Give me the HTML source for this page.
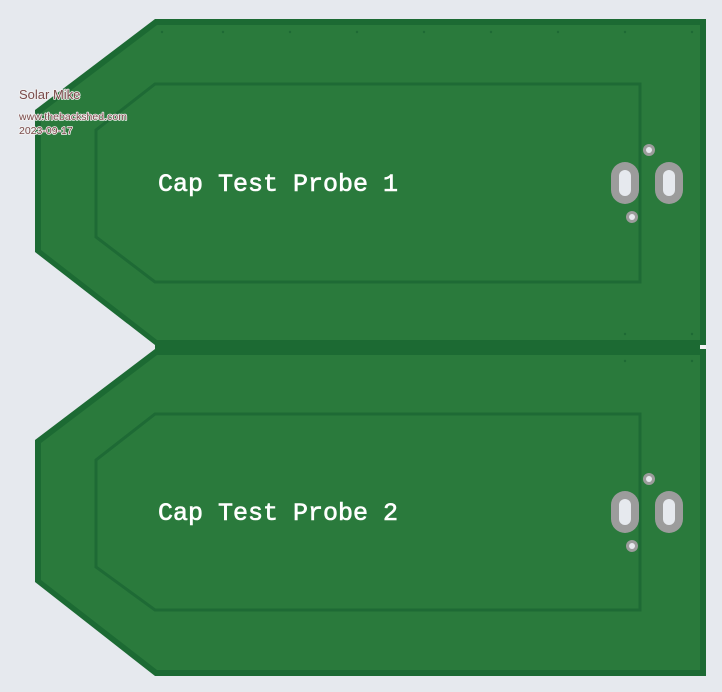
<!DOCTYPE html>
<html><head><style>
html,body{margin:0;padding:0;background:#e6e9ee;width:722px;height:692px;overflow:hidden}
svg{display:block}
</style></head><body>
<svg width="722" height="692" viewBox="0 0 722 692">
<rect width="722" height="692" fill="#e6e9ee"/>
<g id="b1">
<polygon points="155,19 706,19 706,345 155,345 35,252 35,110" fill="#1c6a33"/>
<polygon points="157,25 700,25 700,340 157,340 41,250 41,113" fill="#2a7a3c"/>
<polygon points="155,84 640,84 640,282 155,282 96,237 96,130" fill="none" stroke="#1e6a35" stroke-width="3"/>
<text x="158" y="191" font-family="Liberation Mono, monospace" font-size="25" fill="#fff" stroke="#fff" stroke-width="0.6">Cap Test Probe 1</text>
<rect x="611" y="162" width="28" height="42" rx="14" fill="#9c9c9c"/>
<rect x="619" y="170" width="12" height="26" rx="6" fill="#e6e9ee"/>
<rect x="655" y="162" width="28" height="42" rx="14" fill="#9c9c9c"/>
<rect x="663" y="170" width="12" height="26" rx="6" fill="#e6e9ee"/>
<circle cx="649" cy="150" r="6" fill="#9c9c9c"/><circle cx="649" cy="150" r="3" fill="#e6e9ee"/>
<circle cx="632" cy="217" r="6" fill="#9c9c9c"/><circle cx="632" cy="217" r="3" fill="#e6e9ee"/>
</g>
<rect x="155" y="340" width="545" height="12" fill="#1c6a33"/>
<rect x="700" y="345" width="6" height="5" fill="#f4f4f4"/>
<g transform="translate(0,330)">
<polygon points="155,19 706,19 706,346 155,346 35,252 35,110" fill="#1c6a33"/>
<polygon points="157,25 700,25 700,340 157,340 41,250 41,113" fill="#2a7a3c"/>
<polygon points="155,84 640,84 640,280 155,280 96,237 96,130" fill="none" stroke="#1e6a35" stroke-width="3"/>
<text x="158" y="190" font-family="Liberation Mono, monospace" font-size="25" fill="#fff" stroke="#fff" stroke-width="0.6">Cap Test Probe 2</text>
<rect x="611" y="161" width="28" height="42" rx="14" fill="#9c9c9c"/>
<rect x="619" y="169" width="12" height="26" rx="6" fill="#e6e9ee"/>
<rect x="655" y="161" width="28" height="42" rx="14" fill="#9c9c9c"/>
<rect x="663" y="169" width="12" height="26" rx="6" fill="#e6e9ee"/>
<circle cx="649" cy="149" r="6" fill="#9c9c9c"/><circle cx="649" cy="149" r="3" fill="#e6e9ee"/>
<circle cx="632" cy="216" r="6" fill="#9c9c9c"/><circle cx="632" cy="216" r="3" fill="#e6e9ee"/>
</g>
<g fill="#1e6a35">
<circle cx="162" cy="32" r="1.2"/><circle cx="223" cy="32" r="1.2"/><circle cx="290" cy="32" r="1.2"/><circle cx="357" cy="32" r="1.2"/><circle cx="424" cy="32" r="1.2"/><circle cx="491" cy="32" r="1.2"/><circle cx="558" cy="32" r="1.2"/><circle cx="625" cy="32" r="1.2"/><circle cx="692" cy="32" r="1.2"/>
<circle cx="625" cy="334" r="1.2"/><circle cx="692" cy="334" r="1.2"/><circle cx="625" cy="361" r="1.2"/><circle cx="692" cy="361" r="1.2"/>
</g>
<g font-family="Liberation Sans, sans-serif" fill="#7a4a4a" stroke="#f2f2f2" stroke-width="1.6" paint-order="stroke" stroke-linejoin="round">
<text x="19" y="99" font-size="13">Solar Mike</text>
<text x="19" y="120" font-size="10.5" textLength="108">www.thebackshed.com</text>
<text x="19" y="134" font-size="10.5">2023-09-17</text>
</g>
</svg>
</body></html>
